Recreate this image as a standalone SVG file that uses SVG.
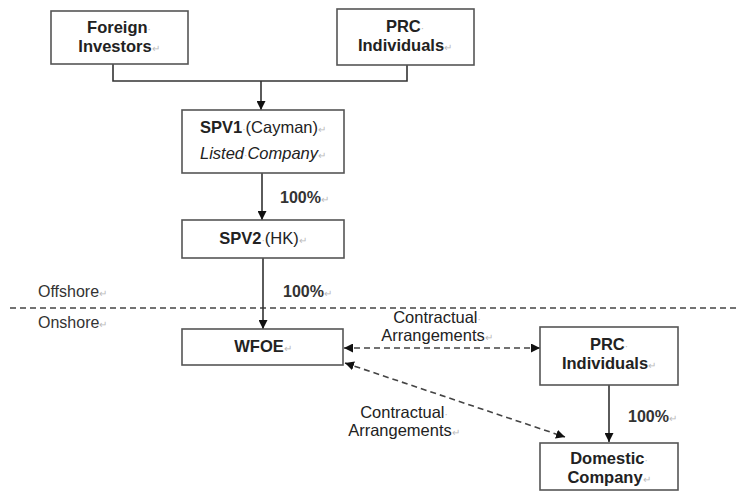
<svg xmlns="http://www.w3.org/2000/svg" width="739" height="495" viewBox="0 0 739 495">
<defs>
<style>
.box{fill:#fff;stroke:#555;stroke-width:1.6}
.t{font-family:"Liberation Sans",Arial,sans-serif;font-size:16.5px;fill:#222;text-anchor:middle}
.b{font-weight:bold}
.l{font-family:"Liberation Sans",Arial,sans-serif;font-size:16px;fill:#333}
.m{fill:#bbb;font-size:10px;font-weight:normal;font-style:normal}
.ln{fill:none;stroke:#333;stroke-width:1.6}
.dl{fill:none;stroke:#444;stroke-width:1.6;stroke-dasharray:6 4}
</style>
<marker id="ah" viewBox="0 0 10 10" refX="10" refY="5" markerWidth="9" markerHeight="9" markerUnits="userSpaceOnUse" orient="auto-start-reverse">
<path d="M0,0 L10,5 L0,10 Z" fill="#111"/>
</marker>
</defs>
<rect width="739" height="495" fill="#fff"/>
<line x1="10" y1="308" x2="739" y2="308" class="dl"/>
<text class="l" x="38" y="297">Offshore<tspan class="m">↵</tspan></text>
<text class="l" x="38" y="328">Onshore<tspan class="m">↵</tspan></text>
<g id="connectors">
<path class="ln" d="M113,64 V81 H407 V65"/>
<path class="ln" d="M261,81 V110" marker-end="url(#ah)"/>
<path class="ln" d="M262,173 V220" marker-end="url(#ah)"/>
<path class="ln" d="M263,258 V329" marker-end="url(#ah)"/>
<path class="dl" d="M344,348 H540" marker-start="url(#ah)" marker-end="url(#ah)"/>
<path class="dl" d="M345,363 L565,437" marker-start="url(#ah)" marker-end="url(#ah)"/>
<path class="ln" d="M609,385 V442" marker-end="url(#ah)"/>
<text class="l b" x="280" y="203">100%<tspan class="m">↵</tspan></text>
<text class="l b" x="283" y="297">100%<tspan class="m">↵</tspan></text>
<text class="l b" x="628" y="422">100%<tspan class="m">↵</tspan></text>
<text class="t" x="437" y="323">Contractual<tspan class="m">·</tspan></text>
<text class="t" x="437" y="341">Arrangements<tspan class="m">↵</tspan></text>
<text class="t" x="404" y="418">Contractual<tspan class="m">·</tspan></text>
<text class="t" x="404" y="436">Arrangements<tspan class="m">↵</tspan></text>
</g>
<g id="foreign-investors">
<rect class="box" x="51" y="11" width="137" height="53"/>
<text class="t b" x="119" y="33">Foreign<tspan class="m">·</tspan></text>
<text class="t b" x="119" y="52">Investors<tspan class="m">↵</tspan></text>
</g>
<g id="prc-individuals-1">
<rect class="box" x="337" y="9" width="137" height="56"/>
<text class="t b" x="405" y="32">PRC<tspan class="m">·</tspan></text>
<text class="t b" x="405" y="51">Individuals<tspan class="m">↵</tspan></text>
</g>
<g id="spv1">
<rect class="box" x="182" y="110" width="162" height="63"/>
<text class="t" x="263" y="133"><tspan class="b">SPV1</tspan><tspan class="m">·</tspan>(Cayman)<tspan class="m">↵</tspan></text>
<text class="t" x="263" y="159" font-style="italic">Listed<tspan class="m">·</tspan>Company<tspan class="m">↵</tspan></text>
</g>
<g id="spv2">
<rect class="box" x="182" y="220" width="162" height="38"/>
<text class="t" x="263" y="244"><tspan class="b">SPV2</tspan><tspan class="m">·</tspan>(HK)<tspan class="m">↵</tspan></text>
</g>
<g id="wfoe">
<rect class="box" x="182" y="329" width="161" height="36"/>
<text class="t b" x="263" y="352">WFOE<tspan class="m">↵</tspan></text>
</g>
<g id="prc-individuals-2">
<rect class="box" x="540" y="327" width="138" height="58"/>
<text class="t b" x="609" y="350">PRC<tspan class="m">·</tspan></text>
<text class="t b" x="609" y="369">Individuals<tspan class="m">↵</tspan></text>
</g>
<g id="domestic-company">
<rect class="box" x="540" y="443" width="138" height="47"/>
<text class="t b" x="609" y="464">Domestic<tspan class="m">·</tspan></text>
<text class="t b" x="609" y="483">Company<tspan class="m">↵</tspan></text>
</g>
</svg>
